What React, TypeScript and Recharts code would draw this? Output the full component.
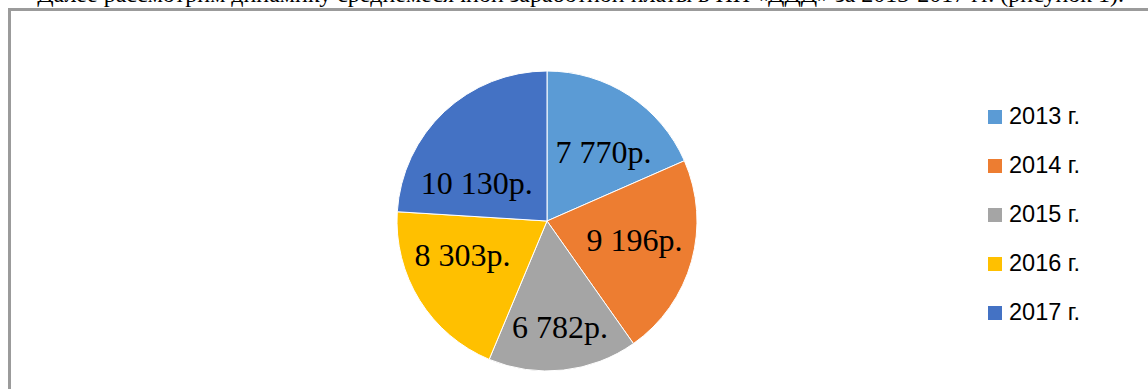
import React from 'react';
import { PieChart, Pie, Cell, Legend } from 'recharts';

const years = ['2013 г.', '2014 г.', '2015 г.', '2016 г.', '2017 г.'];
const salaries = [7770, 9196, 6782, 8303, 10130];
const valueLabels = ['7 770р.', '9 196р.', '6 782р.', '8 303р.', '10 130р.'];
const colors = ['#5B9BD5', '#ED7D31', '#A5A5A5', '#FFC000', '#4472C4'];
const captionText = 'Далее рассмотрим динамику среднемесячной заработной платы в ИП «ДДД» за 2013-2017 гг. (рисунок 1).';

// "best fit" label placement tweaks: angular shift (deg, clockwise) and radius ratio
const labelAngleShift = [6, -3.3, -0.7, 10, -18.6];
const labelRadiusRatio = [0.596, 0.597, 0.71, 0.607, 0.532];

const data = years.map((name, i) => ({ name, value: salaries[i] }));

const RAD = Math.PI / 180;

function renderLabel(props: any) {
  const { cx, cy, midAngle, outerRadius, index } = props;
  const a = midAngle - labelAngleShift[index];
  const r = outerRadius * labelRadiusRatio[index];
  const x = cx + r * Math.cos(-a * RAD);
  const y = cy + r * Math.sin(-a * RAD);
  return (
    <text
      x={x}
      y={y}
      textAnchor="middle"
      dominantBaseline="central"
      fontFamily="'Liberation Serif', 'Times New Roman', serif"
      fontSize={32}
      fill="#000"
    >
      {valueLabels[index]}
    </text>
  );
}

function renderLegend(props: any) {
  const { payload } = props;
  return (
    <div style={{ display: 'flex', flexDirection: 'column' }}>
      {(payload || []).map((entry: any, i: number) => (
        <div key={i} style={{ display: 'flex', alignItems: 'center', height: 49 }}>
          <span style={{ display: 'inline-block', width: 14, height: 14, background: entry.color, marginRight: 7 }} />
          <span style={{ fontFamily: "'Liberation Sans', Arial, sans-serif", fontSize: 23.5, color: '#000' }}>
            {entry.value}
          </span>
        </div>
      ))}
    </div>
  );
}

export default function App() {
  return (
    <div style={{ position: 'absolute', left: 0, top: 0, width: 1148, height: 389, overflow: 'hidden', background: '#fff' }}>
      <svg width={1148} height={389} style={{ position: 'absolute', left: 0, top: 0 }}>
        <text
          x={1124}
          y={2}
          textAnchor="end"
          fontFamily="'Liberation Serif', 'Times New Roman', serif"
          fontSize={24}
          fill="#000"
        >
          {captionText}
        </text>
      </svg>
      <div
        style={{
          position: 'absolute',
          left: 8,
          top: 8,
          width: 1300,
          height: 600,
          border: '3px solid #9b9b9b',
          boxSizing: 'border-box',
        }}
      />
      <div style={{ position: 'absolute', left: 0, top: 0 }}>
        <PieChart width={1148} height={389} margin={{ top: 0, right: 0, bottom: 0, left: 0 }}>
          <Pie
            data={data}
            dataKey="value"
            nameKey="name"
            cx={547}
            cy={221}
            outerRadius={150}
            startAngle={90}
            endAngle={-270}
            stroke="#fff"
            strokeWidth={1}
            label={renderLabel}
            labelLine={false}
            isAnimationActive={false}
          >
            {data.map((d, i) => (
              <Cell key={d.name} fill={colors[i]} />
            ))}
          </Pie>
          <Legend
            layout="vertical"
            align="right"
            verticalAlign="top"
            content={renderLegend}
            wrapperStyle={{ position: 'absolute', left: 988, top: 92, width: 150 }}
          />
        </PieChart>
      </div>
    </div>
  );
}
